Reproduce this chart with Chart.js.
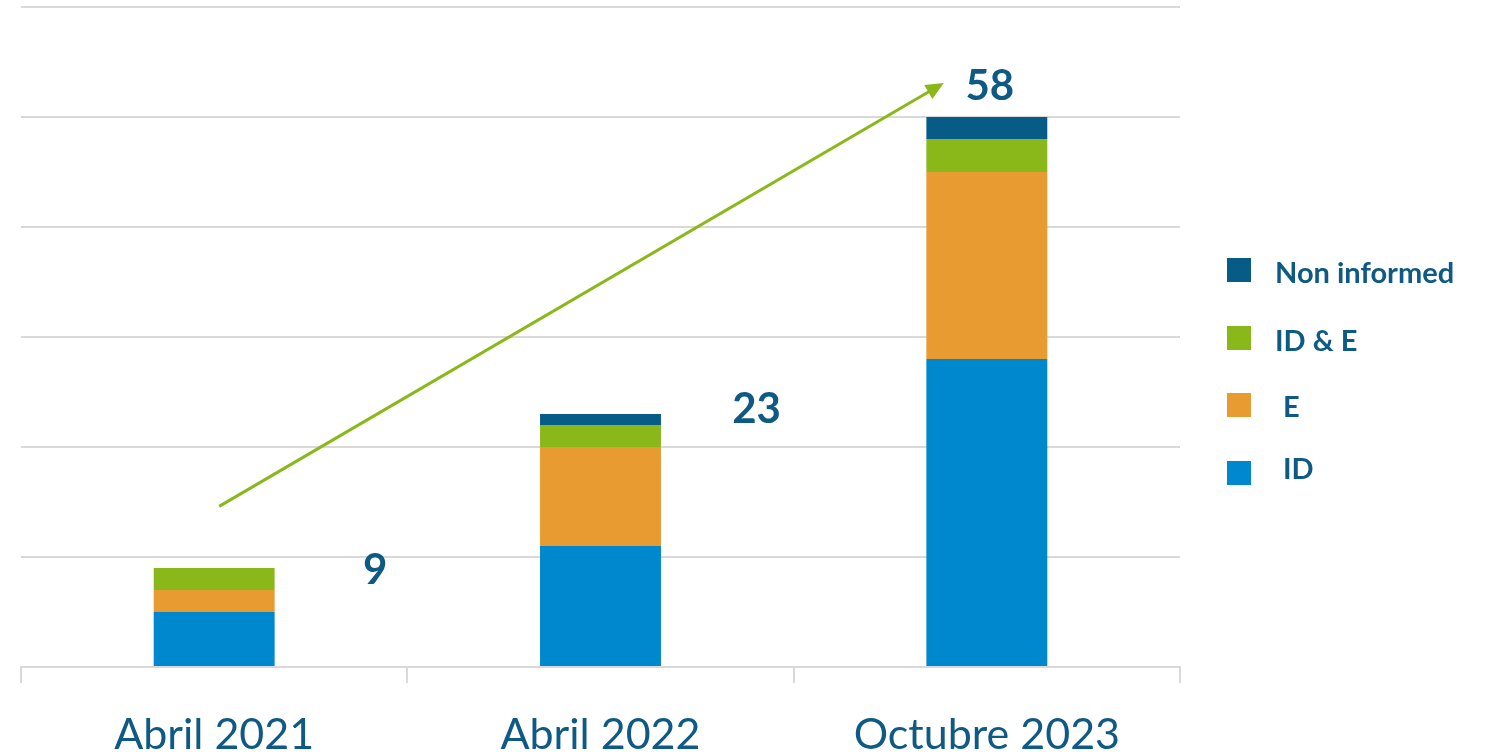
<!DOCTYPE html>
<html>
<head>
<meta charset="utf-8">
<script src="https://cdn.jsdelivr.net/npm/chart.js@4.4.1/dist/chart.umd.min.js"></script>
<style>
    html, body { margin: 0; padding: 0; background: #ffffff; }
    #wrap { width: 1488px; height: 752px; }
</style>
</head>
<body>
<div id="wrap"><canvas id="profileChart" width="1488" height="752"></canvas></div>
<script>
const categories = ['Abril 2021', 'Abril 2022', 'Octubre 2023'];
const seriesNames = ['ID', 'E', 'ID & E', 'Non informed'];
const idValues = [5, 11, 28];
const eValues = [2, 9, 17];
const idEValues = [2, 2, 3];
const nonInformedValues = [0, 1, 2];
const totalLabels = ['9', '23', '58'];

const colors = ['#0088ce', '#e89b30', '#8ab81a', '#065c86'];
const textColor = '#0e5a84';
const fontFamily = 'Lato, "Open Sans", sans-serif';

// totals, arrow and legend are drawn on top of the chart
const annotations = {
    id: 'annotations',
    afterDatasetsDraw(chart) {
        const ctx = chart.ctx;
        const x = chart.scales.x;
        const y = chart.scales.y;

        // growth arrow
        const x1 = x.getPixelForValue(0) + 5, y1 = y.getPixelForValue(14.6);
        const x2 = x.getPixelForValue(2) - 43, y2 = y.getPixelForValue(53.1);
        const ang = Math.atan2(y2 - y1, x2 - x1);
        ctx.save();
        ctx.strokeStyle = '#8ab81a';
        ctx.fillStyle = '#8ab81a';
        ctx.lineWidth = 3;
        ctx.beginPath();
        ctx.moveTo(x1, y1);
        ctx.lineTo(x2 - 10 * Math.cos(ang), y2 - 10 * Math.sin(ang));
        ctx.stroke();
        ctx.beginPath();
        ctx.moveTo(x2, y2);
        ctx.lineTo(x2 - 18 * Math.cos(ang) + 8 * Math.sin(ang), y2 - 18 * Math.sin(ang) - 8 * Math.cos(ang));
        ctx.lineTo(x2 - 18 * Math.cos(ang) - 8 * Math.sin(ang), y2 - 18 * Math.sin(ang) + 8 * Math.cos(ang));
        ctx.closePath();
        ctx.fill();

        // totals
        const offsets = [[161, 8.8], [156, 23.4], [3, 52.8]];
        ctx.font = 'bold 42px ' + fontFamily;
        ctx.fillStyle = textColor;
        ctx.textAlign = 'center';
        ctx.textBaseline = 'middle';
        totalLabels.forEach((t, i) => {
            ctx.fillText(t, x.getPixelForValue(i) + offsets[i][0], y.getPixelForValue(offsets[i][1]));
        });

        // legend, top item is the last series
        ctx.font = 'bold 29px ' + fontFamily;
        ctx.textAlign = 'left';
        const boxRows = [270, 338, 405, 473];
        const textRows = [274, 342, 408, 470];
        const order = [3, 2, 1, 0];
        order.forEach((s, r) => {
            ctx.fillStyle = colors[s];
            ctx.fillRect(1227, boxRows[r] - 12, 24, 24);
            ctx.fillStyle = textColor;
            const indent = seriesNames[s].length <= 2 ? 8 : 0;
            ctx.fillText(seriesNames[s], 1275 + indent, textRows[r]);
        });
        ctx.restore();
    }
};

const seriesData = [idValues, eValues, idEValues, nonInformedValues];

new Chart(document.getElementById('profileChart').getContext('2d'), {
    type: 'bar',
    data: {
        labels: categories,
        datasets: seriesNames.map((name, i) => ({
            label: name,
            data: seriesData[i],
            backgroundColor: colors[i],
            borderWidth: 0,
            categoryPercentage: 1,
            barPercentage: 0.313
        }))
    },
    plugins: [annotations],
    options: {
        responsive: false,
        animation: false,
        layout: { padding: { left: 21, right: 308, top: 7, bottom: 0 } },
        plugins: {
            legend: { display: false },
            tooltip: { enabled: false }
        },
        scales: {
            x: {
                stacked: true,
                grid: { drawOnChartArea: false, color: '#d9d9d9', lineWidth: 2, tickLength: 16 },
                border: { color: '#d9d9d9', width: 2 },
                ticks: {
                    color: textColor,
                    font: { family: fontFamily, size: 43 },
                    padding: 26
                },
                afterFit(scale) { scale.height = 85; }
            },
            y: {
                stacked: true,
                min: 0,
                max: 60,
                grid: { color: '#d9d9d9', lineWidth: 2, drawTicks: false },
                border: { display: false },
                ticks: { display: false, stepSize: 10 },
                afterFit(scale) { scale.width = 0; }
            }
        }
    }
});
</script>
</body>
</html>
